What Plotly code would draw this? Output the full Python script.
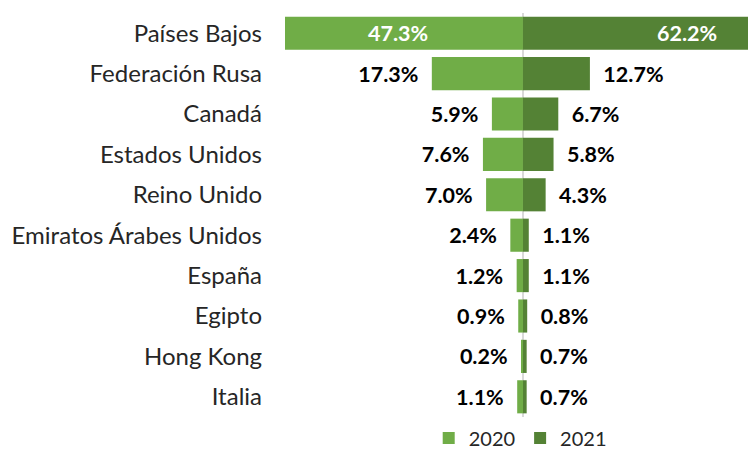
import plotly.graph_objects as go

countries = ["Países Bajos", "Federación Rusa", "Canadá", "Estados Unidos", "Reino Unido",
             "Emiratos Árabes Unidos", "España", "Egipto", "Hong Kong", "Italia"]
v2020 = [47.3, 17.3, 5.9, 7.6, 7.0, 2.4, 1.2, 0.9, 0.2, 1.1]
v2021 = [62.2, 12.7, 6.7, 5.8, 4.3, 1.1, 1.1, 0.8, 0.7, 0.7]

C2020 = "#70AD47"
C2021 = "#548235"
FONT = "Lato"
NB = "\u00a0"
LBL = 21.5

def labels(vals, left):
    out, pos = [], []
    for i, v in enumerate(vals):
        s = f"{v:.1f}%"
        if i == 0:
            out.append(""); pos.append("none")
        else:
            out.append(s + NB * 2 if left else NB * 2 + s)
            pos.append("outside")
    return out, pos

t20, p20 = labels(v2020, True)
t21, p21 = labels(v2021, False)

fig = go.Figure()
fig.add_trace(go.Bar(
    name="2020", y=countries, x=[-v for v in v2020], orientation="h",
    marker=dict(color=C2020, line=dict(width=0)),
    text=t20, textposition=p20, textangle=0,
    textfont=dict(family=FONT, size=LBL, color="black", weight="bold"),
    cliponaxis=True, constraintext="none",
))
fig.add_trace(go.Bar(
    name="2021", y=countries, x=v2021, orientation="h",
    marker=dict(color=C2021, line=dict(width=0)),
    text=t21, textposition=p21, textangle=0,
    textfont=dict(family=FONT, size=LBL, color="black", weight="bold"),
    cliponaxis=True, constraintext="none",
))

# labels inside the largest (clipped) bars, centred on the full bar length
fig.add_annotation(x=-v2020[0] / 2, y=countries[0], text=f"{v2020[0]:.1f}%", showarrow=False,
                   font=dict(family=FONT, size=LBL, color="white", weight="bold"))
fig.add_annotation(x=v2021[0] / 2, y=countries[0], text=f"{v2021[0]:.1f}%", showarrow=False,
                   font=dict(family=FONT, size=LBL, color="white", weight="bold"))

fig.update_layout(
    width=748, height=449,
    margin=dict(l=285, r=0, t=13, b=32, autoexpand=False),
    paper_bgcolor="white", plot_bgcolor="white",
    barmode="relative", bargap=0.18,
    font=dict(family=FONT, size=20, color="#262626"),
    showlegend=True,
    legend=dict(orientation="h", x=0.508, xanchor="center", y=-0.052, yanchor="middle",
                font=dict(family=FONT, size=20, color="#262626"),
                itemwidth=30, tracegroupgap=0, traceorder="normal",
                bgcolor="rgba(0,0,0,0)"),
)
fig.update_xaxes(range=[-45.16, 42.7], showgrid=False, showticklabels=False,
                 zeroline=True, zerolinecolor="#D9D9D9", zerolinewidth=2, fixedrange=True)
fig.update_yaxes(autorange="reversed", showgrid=False, ticks="", ticklabelstandoff=22,
                 tickfont=dict(family=FONT, size=24, color="#262626"), fixedrange=True)

fig.write_html("out.html", config={"displayModeBar": False},
               post_script="document.body.style.margin='0';document.body.style.overflow='hidden';")
